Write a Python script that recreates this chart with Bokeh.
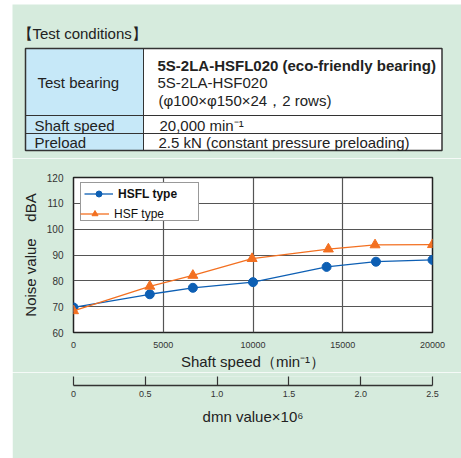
from bokeh.plotting import figure
from bokeh.models import Range1d, FixedTicker, Legend, LegendItem, ColumnDataSource, Spacer
from bokeh.layouts import column, row
from bokeh.core.properties import value
from bokeh.embed import file_html
from bokeh.resources import INLINE

# ---------------- data ----------------
hsfl_speed = [0, 4250, 6650, 10000, 14100, 16850, 20000]
hsfl_noise = [69.7, 74.8, 77.3, 79.5, 85.4, 87.4, 88.1]
hsf_speed = [0, 4250, 6650, 9950, 14200, 16800, 20000]
hsf_noise = [68.4, 77.9, 82.1, 88.6, 92.3, 93.9, 94.0]

x_ticks = [0, 5000, 10000, 15000, 20000]
y_ticks = [60, 70, 80, 90, 100, 110, 120]
dmn_ticks = [0, 0.5, 1.0, 1.5, 2.0, 2.5]
dmn_labels = ["0", "0.5", "1.0", "1.5", "2.0", "2.5"]

table_title = "【Test conditions】"
row_labels = ["Test bearing", "Shaft speed", "Preload"]
bearing_lines = ["5S-2LA-HSFL020 (eco-friendly bearing)", "5S-2LA-HSF020", "(φ100×φ150×24，2 rows)"]
speed_text = "20,000 min⁻¹"
preload_text = "2.5 kN (constant pressure preloading)"

series_names = ["HSFL type", "HSF type"]
y_label = "Noise value\u00a0\u00a0\u00a0\u00a0dBA"
x_label = "Shaft speed（min⁻¹）"
dmn_label = "dmn value×10⁶"

# ---------------- style ----------------
GREEN = "#d6ebdd"
LBLUE = "#c6e8f8"
BLUE = "#0d5fb4"
ORANGE = "#f37021"
DARK = "#333333"
FONT = value("Liberation Sans")
TFS = "15px"
X0, Y0 = 12, 4          # top-left of the green panel on the page
W = 449

# ---------------- table figure ----------------
TH = 154
t = figure(width=W, height=TH, x_range=Range1d(X0, X0 + W), y_range=Range1d(Y0 + TH, Y0),
           output_backend="svg", toolbar_location=None, x_axis_location=None, y_axis_location=None,
           min_border=0, background_fill_color=GREEN, border_fill_color=GREEN, outline_line_color=None,
           frame_align=False)
t.grid.visible = False

TL, TM, TR, TT, TB = 25, 143, 441.5, 48, 150
R1, R2 = 115, 133
t.quad(left=[TL], right=[TM], top=[TT], bottom=[TB], fill_color=LBLUE, line_color=None)
t.quad(left=[TM], right=[TR], top=[TT], bottom=[TB], fill_color="white", line_color=None)
t.segment(x0=[TM, TL, TL], y0=[TT, R1, R2], x1=[TM, TR, TR], y1=[TB, R1, R2], line_color=DARK, line_width=1)
t.quad(left=[TL], right=[TR], top=[TT], bottom=[TB], fill_color=None, line_color=DARK, line_width=1.5)

t.text(x=[17], y=[32.5], text=[table_title], text_font=FONT, text_font_size=TFS,
       text_baseline="middle", text_color="#222222")
t.text(x=[37, 34, 34], y=[82, 124.5, 142], text=row_labels, text_font=FONT, text_font_size=TFS,
       text_baseline="middle", text_color="#222222")
t.text(x=[157], y=[64.5], text=bearing_lines[:1], text_font=FONT, text_font_size=TFS,
       text_font_style="bold", text_baseline="middle", text_color="#222222")
t.text(x=[157, 158, 159, 158], y=[82, 99.5, 124.5, 142],
       text=bearing_lines[1:] + [speed_text, preload_text], text_font=FONT, text_font_size=TFS,
       text_baseline="middle", text_color="#222222")

# ---------------- chart figure ----------------
p = figure(width=W, height=214, x_range=Range1d(0, 20000), y_range=Range1d(60, 120),
           output_backend="svg", toolbar_location=None, frame_align=False,
           min_border_left=61, min_border_right=W - 61 - 359, min_border_top=19, min_border_bottom=35,
           background_fill_color="white", border_fill_color=GREEN,
           outline_line_color="#222222", outline_line_width=1.5)

p.xaxis.ticker = FixedTicker(ticks=x_ticks)
p.yaxis.ticker = FixedTicker(ticks=y_ticks)
for ax in (p.xaxis[0], p.yaxis[0]):
    ax.axis_line_color = None
    ax.major_tick_line_color = None
    ax.minor_tick_line_color = None
    ax.major_label_text_font = "Liberation Sans"
    ax.major_label_text_color = DARK
    ax.axis_label_text_font = "Liberation Sans"
    ax.axis_label_text_font_style = "normal"
    ax.axis_label_text_font_size = "15px"
    ax.axis_label_text_color = "#222222"
p.xaxis.major_label_text_font_size = "9px"
p.yaxis.major_label_text_font_size = "10px"
p.xaxis.major_label_standoff = 3
p.yaxis.major_label_standoff = 4
p.xaxis.axis_label = x_label
p.yaxis.axis_label = y_label
p.xaxis.axis_label_standoff = 2
p.yaxis.axis_label_standoff = 5

p.xgrid.ticker = FixedTicker(ticks=x_ticks)
p.ygrid.ticker = FixedTicker(ticks=y_ticks)
p.grid.grid_line_color = "#555555"
p.grid.grid_line_width = 1.2
p.grid.grid_line_alpha = 1

src1 = ColumnDataSource(dict(x=hsfl_speed, y=hsfl_noise))
src2 = ColumnDataSource(dict(x=hsf_speed, y=hsf_noise))
l1 = p.line("x", "y", source=src1, line_color=BLUE, line_width=1.3)
s1 = p.scatter("x", "y", source=src1, marker="circle", size=9, fill_color=BLUE, line_color=BLUE)
l2 = p.line("x", "y", source=src2, line_color=ORANGE, line_width=1.3)
s2 = p.scatter("x", "y", source=src2, marker="triangle", size=10, fill_color=ORANGE, line_color=ORANGE)
dummy = p.scatter(x=[], y=[], marker="circle", fill_alpha=0, line_alpha=0)

leg_common = dict(location=(7, 111), margin=0, padding=3, spacing=1, glyph_width=29, glyph_height=15,
                  label_height=15, label_standoff=5, label_text_font="Liberation Sans",
                  label_text_font_size="12px", label_text_color="#111111")
legA = Legend(items=[LegendItem(label=value(series_names[0]), renderers=[l1, s1]),
                     LegendItem(label=value("\u00a0"), renderers=[dummy])],
              label_width=77, label_text_font_style="bold", border_line_color=DARK, border_line_width=1,
              background_fill_color="white", background_fill_alpha=1, **leg_common)
legB = Legend(items=[LegendItem(label=value(series_names[1]), renderers=[l2, s2])],
              label_text_font_style="normal", border_line_color=None, background_fill_alpha=0, **leg_common)
p.add_layout(legA)
p.add_layout(legB)

# ---------------- dmn axis figure ----------------
DH = 458 - Y0 - TH - 214
d = figure(width=W, height=DH, x_range=Range1d(dmn_ticks[0], dmn_ticks[-1]), y_range=Range1d(0, 1),
           output_backend="svg", toolbar_location=None, y_axis_location=None, frame_align=False,
           min_border_left=61, min_border_right=W - 61 - 359, min_border_top=4, min_border_bottom=DH - 13,
           background_fill_color=GREEN, border_fill_color=GREEN, outline_line_color=None)
d.grid.visible = False
dx = d.xaxis[0]
dx.ticker = FixedTicker(ticks=dmn_ticks)
dx.major_label_overrides = dict(zip(dmn_ticks, dmn_labels))
dx.axis_line_color = DARK
dx.axis_line_width = 1.5
dx.major_tick_line_color = DARK
dx.major_tick_line_width = 1.2
dx.major_tick_in = 9
dx.major_tick_out = 0
dx.minor_tick_line_color = None
dx.major_label_text_font = "Liberation Sans"
dx.major_label_text_font_size = "9px"
dx.major_label_text_color = DARK
dx.major_label_standoff = 5
dx.axis_label = dmn_label
dx.axis_label_text_font = "Liberation Sans"
dx.axis_label_text_font_style = "normal"
dx.axis_label_text_font_size = "15px"
dx.axis_label_text_color = "#222222"
dx.axis_label_standoff = 8

layout = column(Spacer(width=W + X0, height=Y0),
                row(Spacer(width=X0, height=458 - Y0), column(t, p, d)))
open("out.html", "w").write(file_html(layout, INLINE))
